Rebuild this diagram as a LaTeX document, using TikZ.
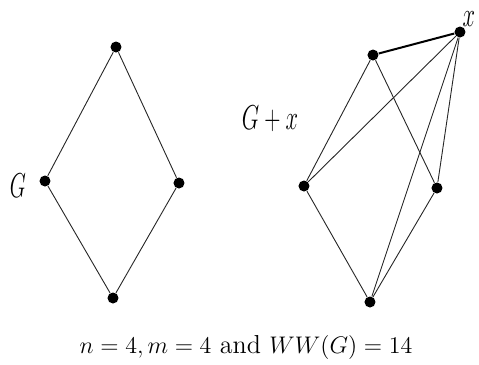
\documentclass[tikz,border=0pt]{standalone}
\usetikzlibrary{positioning}

\begin{document}
\begin{tikzpicture}[
    x=0.5pt, y=-0.5pt,
    vertex/.style={circle, fill=black, inner sep=0pt, minimum size=5.5pt},
    edge/.style={line width=0.45pt, color=black!85},
    heavy/.style={line width=1pt, color=black},
    lbl/.style={font=\fontsize{17}{20}\selectfont, inner sep=0pt}
]
\useasboundingbox (0,0) rectangle (479,365);

% Graph G (left)
\node[vertex] (g-top) at (116, 47) {};
\node[vertex] (g-left) at (45, 181) {};
\node[vertex] (g-right) at (179, 183) {};
\node[vertex] (g-bot) at (113, 298) {};
\node[lbl] (g-name) at (18, 186) {\scalebox{0.6}[1]{$G$}};

\draw[edge] (g-top) -- (g-left) -- (g-bot) -- (g-right) -- (g-top);

% Graph G + x (right)
\node[vertex] (h-top) at (373, 55) {};
\node[vertex] (h-left) at (304, 186) {};
\node[vertex] (h-right) at (437, 188) {};
\node[vertex] (h-bot) at (370, 302) {};
\node[vertex] (h-x) at (460, 32) {};
\node[lbl] (h-name) at (270, 119) {\scalebox{0.65}[1]{$G+x$}};
\node[lbl] (x-name) at (469, 19) {\scalebox{0.65}[1]{$x$}};

\draw[edge] (h-top) -- (h-left) -- (h-bot) -- (h-right) -- (h-top);

% Edges from the new vertex x
\draw[heavy] (h-x) -- (h-top);
\draw[edge] (h-x) -- (h-left);
\draw[edge] (h-x) -- (h-right);
\draw[edge] (h-x) -- (h-bot);

% Caption
\node[font=\fontsize{13}{16}\selectfont] (caption) at (246, 347) {$n = 4, m = 4$ and $WW(G) = 14$};

\end{tikzpicture}
\end{document}
